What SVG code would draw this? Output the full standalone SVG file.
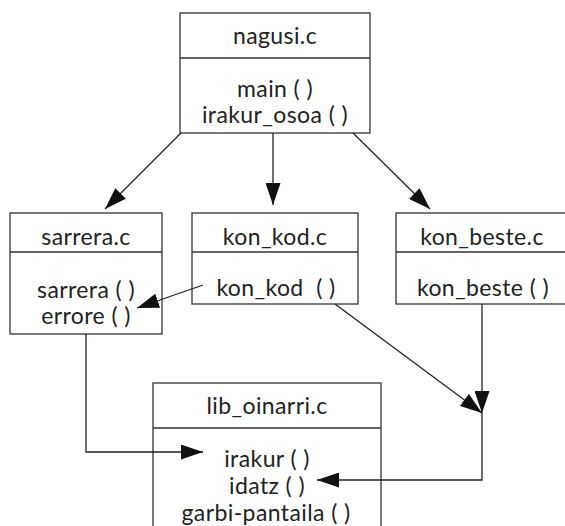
<svg xmlns="http://www.w3.org/2000/svg" width="565" height="526" viewBox="0 0 565 526">
  <style>
    .box { fill: #ffffff; stroke: #333333; stroke-width: 1.3; }
    .sep { stroke: #333333; stroke-width: 1.3; }
    .lbl { font-family: "Lato", "Liberation Sans", sans-serif; font-size: 23px; letter-spacing: 0.4px; fill: #222222; text-anchor: middle; white-space: pre; }
    .wire { fill: none; stroke: #222222; stroke-width: 1.3; }
  </style>
  <defs>
    <marker id="head" viewBox="0 0 22 15" refX="22" refY="7.5" markerWidth="22" markerHeight="15" markerUnits="userSpaceOnUse" orient="auto">
      <path d="M0,0 L22,7.5 L0,15 Z" fill="#111111"/>
    </marker>
  </defs>

  <rect width="565" height="526" fill="#ffffff"/>

  <g id="nagusi">
    <rect class="box" x="180" y="13" width="190" height="120"/>
    <line class="sep" x1="180" y1="58" x2="370" y2="58"/>
    <text class="lbl" x="275" y="44">nagusi.c</text>
    <text class="lbl" x="275" y="97">main ( )</text>
    <text class="lbl" x="275" y="123">irakur_osoa ( )</text>
  </g>

  <g id="sarrera">
    <rect class="box" x="10" y="213" width="152" height="121"/>
    <line class="sep" x1="10" y1="252" x2="162" y2="252"/>
    <text class="lbl" x="86" y="245">sarrera.c</text>
    <text class="lbl" x="86" y="298">sarrera ( )</text>
    <text class="lbl" x="86" y="324">errore ( )</text>
  </g>

  <g id="kon_kod">
    <rect class="box" x="192" y="213" width="166" height="91"/>
    <line class="sep" x1="192" y1="252" x2="358" y2="252"/>
    <text class="lbl" x="275" y="245">kon_kod.c</text>
    <text class="lbl" x="276" y="296">kon_kod  ( )</text>
  </g>

  <g id="kon_beste">
    <rect class="box" x="396" y="213" width="172" height="91"/>
    <line class="sep" x1="396" y1="252" x2="568" y2="252"/>
    <text class="lbl" x="482" y="245">kon_beste.c</text>
    <text class="lbl" x="483" y="296">kon_beste ( )</text>
  </g>

  <g id="lib_oinarri">
    <rect class="box" x="153" y="383" width="228" height="150"/>
    <line class="sep" x1="153" y1="428" x2="381" y2="428"/>
    <text class="lbl" x="267" y="414">lib_oinarri.c</text>
    <text class="lbl" x="267" y="467">irakur ( )</text>
    <text class="lbl" x="267" y="494">idatz ( )</text>
    <text class="lbl" x="266" y="521">garbi-pantaila ( )</text>
  </g>

  <g id="connectors">
    <line class="wire" x1="181" y1="133" x2="105" y2="209" marker-end="url(#head)"/>
    <line class="wire" x1="273" y1="133" x2="273" y2="205" marker-end="url(#head)"/>
    <line class="wire" x1="353" y1="133" x2="430" y2="209" marker-end="url(#head)"/>
    <line class="wire" x1="203" y1="285" x2="137" y2="308" marker-end="url(#head)"/>
    <line class="wire" x1="335" y1="304" x2="482" y2="413" marker-end="url(#head)"/>
    <line class="wire" x1="482" y1="304" x2="482" y2="413" marker-end="url(#head)"/>
    <polyline class="wire" points="482,413 482,480 317,480" marker-end="url(#head)"/>
    <polyline class="wire" points="86,334 86,452 203,452" marker-end="url(#head)"/>
  </g>
</svg>
